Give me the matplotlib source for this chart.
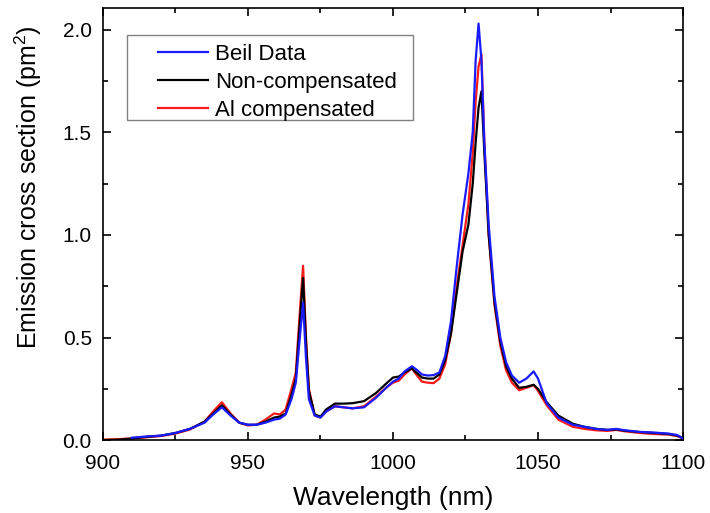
import numpy as np
import matplotlib
matplotlib.use("Agg")
import matplotlib.pyplot as plt
from matplotlib.ticker import MultipleLocator
from matplotlib.patches import Rectangle

plt.rcParams.update({"font.family": ["Liberation Sans", "DejaVu Sans"],
                     "mathtext.fontset": "custom", "mathtext.rm": "Liberation Sans"})

# wavelength grid (nm)
wl = [900, 905, 910, 915, 920, 925, 930, 935, 938, 941, 944, 947, 950, 953, 956,
      959, 961, 963, 965, 966.5, 968, 969, 970, 971, 973, 975, 977, 980, 983, 986,
      990, 994, 998, 1000, 1002, 1004, 1006.5, 1008, 1010, 1012, 1014, 1016, 1018,
      1020, 1022, 1024, 1026, 1027.5, 1028.5, 1029.5, 1030.5, 1031.5, 1033, 1035,
      1037, 1039, 1041, 1043.5, 1046, 1048.5, 1050, 1053, 1057, 1062, 1066, 1070,
      1074, 1077, 1080, 1085, 1090, 1095, 1098, 1100]

beil = [np.nan, np.nan, 0.012, 0.018, 0.022, 0.035, 0.055, 0.085, 0.125, 0.16, 0.12,
        0.085, 0.075, 0.075, 0.085, 0.1, 0.105, 0.125, 0.2, 0.28, 0.52, 0.67, 0.4, 0.2,
        0.12, 0.11, 0.14, 0.165, 0.16, 0.155, 0.16, 0.205, 0.26, 0.285, 0.3, 0.335,
        0.36, 0.345, 0.32, 0.315, 0.317, 0.33, 0.41, 0.58, 0.85, 1.1, 1.3, 1.5, 1.85,
        2.03, 1.85, 1.45, 1.05, 0.7, 0.5, 0.38, 0.315, 0.28, 0.3, 0.335, 0.3, 0.18,
        0.11, 0.075, 0.065, 0.055, 0.05, 0.055, 0.048, 0.04, 0.037, 0.032, 0.025, 0.008]

noncomp = [0.0, 0.002, 0.008, 0.016, 0.022, 0.035, 0.055, 0.09, 0.13, 0.17, 0.125,
           0.085, 0.075, 0.075, 0.09, 0.11, 0.115, 0.13, 0.22, 0.3, 0.6, 0.79, 0.48,
           0.24, 0.125, 0.115, 0.15, 0.178, 0.178, 0.18, 0.19, 0.228, 0.28, 0.305, 0.31,
           0.33, 0.35, 0.33, 0.305, 0.3, 0.3, 0.32, 0.39, 0.52, 0.72, 0.92, 1.05, 1.25,
           1.45, 1.62, 1.7, 1.4, 1.0, 0.67, 0.48, 0.36, 0.3, 0.255, 0.26, 0.27, 0.25,
           0.185, 0.12, 0.08, 0.065, 0.055, 0.05, 0.052, 0.046, 0.04, 0.035, 0.03,
           0.022, 0.01]

alcomp = [0.003, 0.005, 0.008, 0.014, 0.02, 0.032, 0.052, 0.09, 0.14, 0.185, 0.13,
          0.085, 0.072, 0.075, 0.1, 0.13, 0.125, 0.15, 0.25, 0.33, 0.65, 0.85, 0.5,
          0.25, 0.12, 0.11, 0.14, 0.165, 0.16, 0.155, 0.165, 0.21, 0.26, 0.28, 0.29,
          0.32, 0.35, 0.32, 0.285, 0.28, 0.278, 0.3, 0.37, 0.52, 0.75, 0.95, 1.15, 1.4,
          1.65, 1.82, 1.88, 1.45, 1.0, 0.66, 0.46, 0.34, 0.28, 0.243, 0.255, 0.268,
          0.24, 0.17, 0.1, 0.065, 0.055, 0.048, 0.045, 0.05, 0.043, 0.035, 0.03, 0.027,
          0.02, 0.008]

fig = plt.figure(figsize=(7.1, 5.13), dpi=100)
ax = fig.add_axes([0.145, 0.142, 0.817, 0.842])

l3, = ax.plot(wl, alcomp, color="#ff1a1a", lw=1.6, label="Al compensated", zorder=2)
l2, = ax.plot(wl, noncomp, color="black", lw=1.6, label="Non-compensated", zorder=3)
l1, = ax.plot(wl, beil, color="#1a1aff", lw=1.6, label="Beil Data", zorder=4)

ax.set_xlim(900, 1100)
ax.set_ylim(0, 2.105)
ax.xaxis.set_major_locator(MultipleLocator(50))
ax.xaxis.set_minor_locator(MultipleLocator(25))
ax.yaxis.set_major_locator(MultipleLocator(0.5))
ax.yaxis.set_minor_locator(MultipleLocator(0.25))
ax.yaxis.set_major_formatter(matplotlib.ticker.FormatStrFormatter("%.1f"))
ax.tick_params(which="both", direction="in", top=True, right=True, labelsize=15,
               width=1.2)
ax.tick_params(which="major", length=6)
ax.tick_params(which="minor", length=3.5)
ax.tick_params(axis="x", which="major", pad=10)
ax.tick_params(axis="y", which="major", pad=8)
for s in ax.spines.values():
    s.set_linewidth(1.2)

ax.set_xlabel("Wavelength (nm)", fontsize=19, labelpad=9)
ax.set_ylabel("Emission cross section (pm$^2$)", fontsize=18)
ax.yaxis.set_label_coords(-0.101, 0.585)

# legend box drawn by hand, entries inset from its left edge as in the original
ax.add_patch(Rectangle((0.041, 0.741), 0.493, 0.197, transform=ax.transAxes,
                       fill=False, edgecolor="#808080", lw=1.0, zorder=5))
ax.legend(handles=[l1, l2, l3], loc="upper left", bbox_to_anchor=(0.0948, 0.917),
          fontsize=16, frameon=False, handlelength=2.25, borderpad=0,
          labelspacing=0.31, handletextpad=0.32, borderaxespad=0)

fig.savefig("out.png", dpi=100)
